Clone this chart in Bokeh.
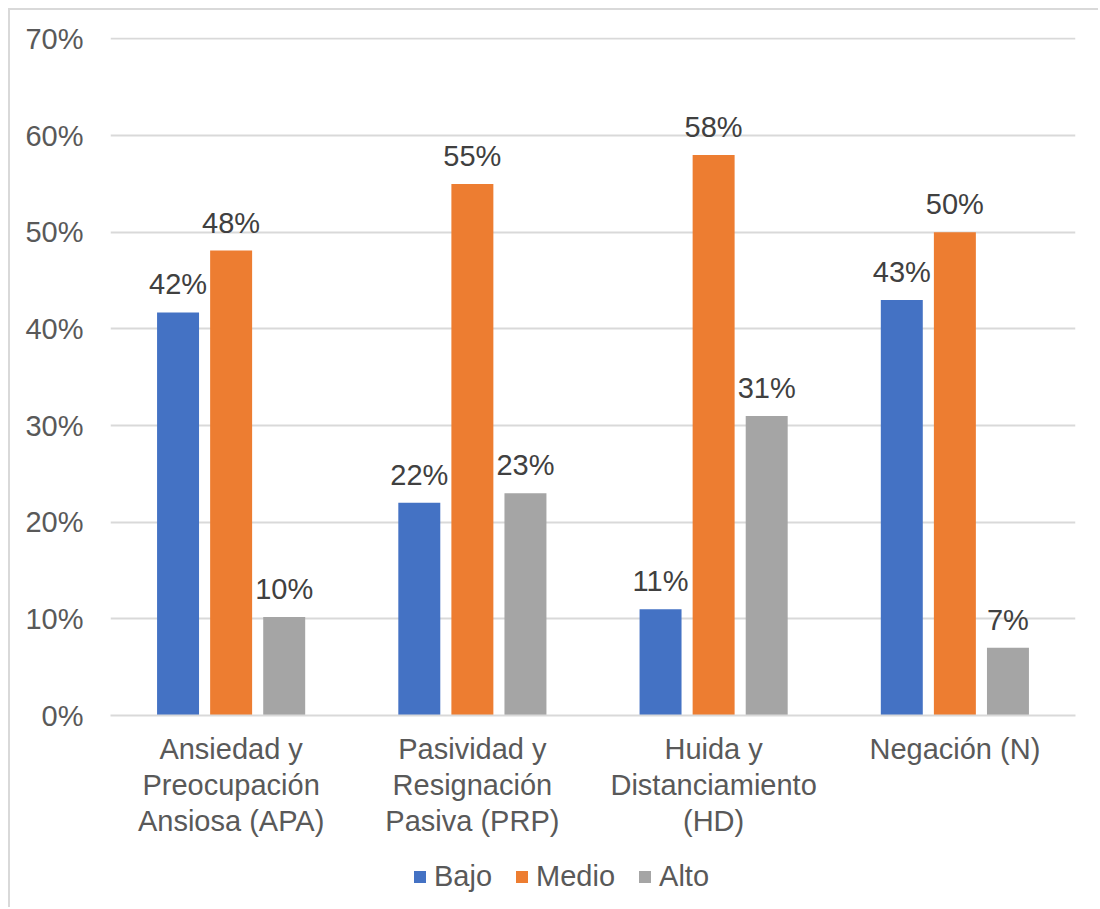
from bokeh.plotting import figure
from bokeh.layouts import column
from bokeh.models import ColumnDataSource, FixedTicker, NumeralTickFormatter, Legend, LegendItem, Range1d
from bokeh.core.properties import value
from bokeh.embed import file_html
from bokeh.resources import INLINE

categories = ["Ansiedad y\nPreocupación\nAnsiosa (APA)",
              "Pasividad y\nResignación\nPasiva (PRP)",
              "Huida y\nDistanciamiento\n(HD)",
              "Negación (N)"]
series_names = ["Bajo", "Medio", "Alto"]
bajo = [0.417, 0.22, 0.11, 0.43]
medio = [0.481, 0.55, 0.58, 0.50]
alto = [0.102, 0.23, 0.31, 0.07]
label_bajo = ["42%", "22%", "11%", "43%"]
label_medio = ["48%", "55%", "58%", "50%"]
label_alto = ["10%", "23%", "31%", "7%"]
y_ticks = [0, 0.1, 0.2, 0.3, 0.4, 0.5, 0.6, 0.7]

colors = ["#4472C4", "#ED7D31", "#A5A5A5"]
FONT = "Liberation Sans"
FS = "29px"
BORDER = "2px solid #d9d9d9"

W = 1090
p = figure(width=W, height=835, output_backend="svg", toolbar_location=None,
           x_range=Range1d(0, 4), y_range=Range1d(0, 0.7015),
           min_border_left=100, min_border_right=25, min_border_top=27, min_border_bottom=130)
p.styles = {"margin-left": "8px", "margin-top": "8px", "border-left": BORDER, "border-top": BORDER}
p.outline_line_color = None
p.background_fill_color = "white"
p.border_fill_color = "white"

offsets = [-0.22, 0.0, 0.22]
bw = 0.174
all_vals = [bajo, medio, alto]
all_labels = [label_bajo, label_medio, label_alto]
for k in range(3):
    xs = [i + 0.5 + offsets[k] for i in range(4)]
    src = ColumnDataSource(dict(x=xs, top=all_vals[k], lab=all_labels[k]))
    p.vbar(x="x", top="top", width=bw, bottom=0, source=src,
           fill_color=colors[k], line_color=None)
    p.text(x="x", y="top", text="lab", source=src, text_align="center",
           text_baseline="bottom", y_offset=-12, text_color="#404040",
           text_font=value(FONT), text_font_size=FS)

# axes
p.yaxis.ticker = FixedTicker(ticks=y_ticks)
p.yaxis.formatter = NumeralTickFormatter(format="0%")
p.yaxis.axis_line_color = None
p.yaxis.major_tick_line_color = None
p.yaxis.major_tick_out = 0
p.yaxis.major_tick_in = 0
p.yaxis.minor_tick_line_color = None
p.yaxis.major_label_standoff = 27
p.yaxis.major_label_text_font = FONT
p.yaxis.major_label_text_font_size = FS
p.yaxis.major_label_text_color = "#595959"

p.xaxis.ticker = FixedTicker(ticks=[0.5, 1.5, 2.5, 3.5])
p.xaxis.major_label_overrides = {0.5: categories[0], 1.5: categories[1],
                                 2.5: categories[2], 3.5: categories[3]}
p.xaxis.axis_line_color = "#d9d9d9"
p.xaxis.axis_line_width = 2
p.xaxis.major_tick_line_color = None
p.xaxis.major_tick_out = 0
p.xaxis.major_tick_in = 0
p.xaxis.minor_tick_line_color = None
p.xaxis.major_label_standoff = 17
p.xaxis.major_label_text_font = FONT
p.xaxis.major_label_text_font_size = FS
p.xaxis.major_label_text_color = "#595959"
p.xaxis.major_label_text_line_height = 1.13

p.xgrid.grid_line_color = None
p.ygrid.grid_line_color = "#d9d9d9"
p.ygrid.grid_line_width = 2

# legend strip (zero-height swatch renderers; only the legend shows)
lf = figure(width=W, height=64, output_backend="svg", toolbar_location=None,
            x_range=Range1d(0, 1), y_range=Range1d(0, 1),
            x_axis_location=None, y_axis_location=None,
            min_border=0, min_border_left=0, min_border_right=0, min_border_top=0, min_border_bottom=0)
lf.styles = {"margin-left": "8px", "border-left": BORDER}
lf.grid.visible = False
lf.outline_line_color = None
lf.background_fill_color = "white"
lf.border_fill_color = "white"
leg_renderers = []
for k in range(3):
    r = lf.vbar(x=[0.5], top=[0], width=0.01, bottom=0, fill_color=colors[k], line_color=None)
    leg_renderers.append(r)
legend = Legend(items=[LegendItem(label=series_names[k], renderers=[leg_renderers[k]]) for k in range(3)],
                orientation="horizontal", location=(302, 14))
legend.glyph_width = 15
legend.glyph_height = 15
legend.label_standoff = 7
legend.spacing = 22
legend.label_text_font = FONT
legend.label_text_font_size = FS
legend.label_text_color = "#595959"
legend.border_line_color = None
legend.background_fill_alpha = 0
legend.padding = 0
legend.margin = 0
lf.add_layout(legend, "center")

layout = column(p, lf, spacing=0)
open("out.html", "w").write(file_html(layout, INLINE))
